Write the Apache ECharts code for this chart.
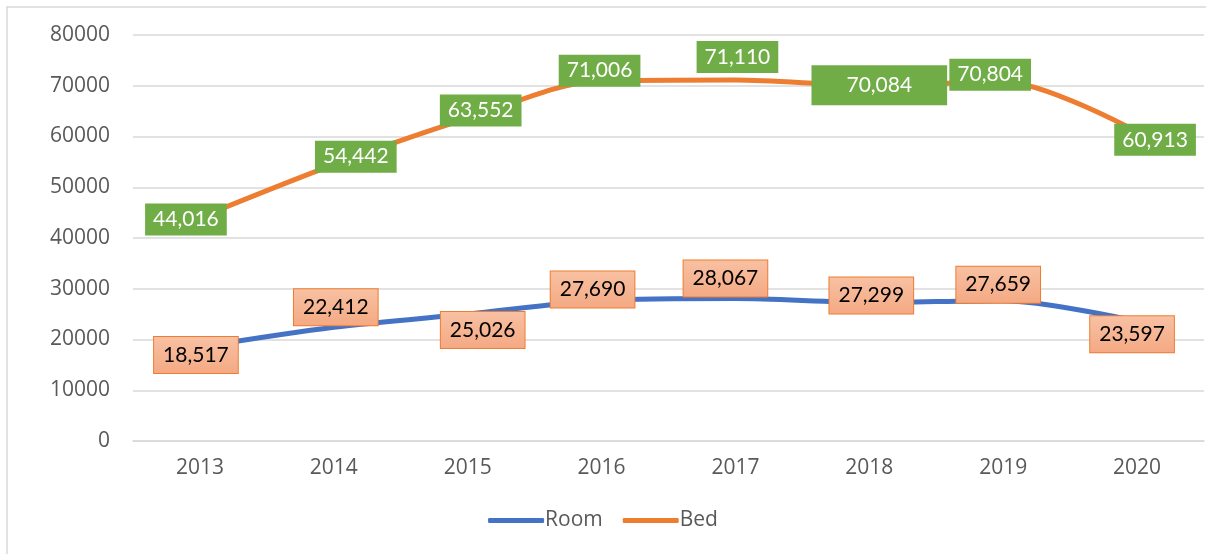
<!DOCTYPE html>
<html lang="en" style="height: 100%">
<head>
  <meta charset="utf-8">
</head>
<body style="height: 100%; margin: 0; background: #fff">
  <div id="container" style="width: 1206px; height: 554px"></div>
  <script src="https://cdn.jsdelivr.net/npm/echarts@6/dist/echarts.min.js"></script>
  <script type="text/javascript">
    var years = ['2013', '2014', '2015', '2016', '2017', '2018', '2019', '2020'];
    var roomValues = [18517, 22412, 25026, 27690, 28067, 27299, 27659, 23597];
    var bedValues = [44016, 54442, 63552, 71006, 71110, 70084, 70804, 60913];
    // label nudges (px) so the boxes sit like the original
    var roomLabelOffsets = [[-4, 8], [2, -20], [15, 16], [-9, -11], [-10, -20], [2, -7], [-5, -16], [-5, 13]];
    var bedLabelOffsets = [[-14, 2], [22, -8], [13, -8], [-2, -10], [2, -23], [10, 0], [-13, -7], [18, 8]];

    var dom = document.getElementById('container');
    var myChart = echarts.init(dom, null, { renderer: 'canvas' });

    function fmt(p) {
      return p.value.toLocaleString('en-US');
    }

    var roomLabel = {
      show: true,
      position: 'inside',
      formatter: fmt,
      fontFamily: 'Lato',
      fontSize: 21,
      color: '#000',
      padding: [8, 9, 7, 9],
      borderColor: '#ed7d31',
      borderWidth: 1,
      backgroundColor: new echarts.graphic.LinearGradient(0, 0, 0, 1, [
        { offset: 0, color: '#f8c1a3' },
        { offset: 1, color: '#f4a983' }
      ])
    };
    var bedLabel = {
      show: true,
      position: 'inside',
      formatter: fmt,
      fontFamily: 'Lato',
      fontSize: 21,
      color: '#fff',
      padding: [6, 8, 5, 8],
      backgroundColor: '#70ad47'
    };

    var roomData = roomValues.map(function (v, i) {
      return { value: v, label: { offset: roomLabelOffsets[i] } };
    });
    var bedData = bedValues.map(function (v, i) {
      var lbl = { offset: bedLabelOffsets[i] };
      if (i === 5) lbl.padding = [10, 35, 9, 35];
      return { value: v, label: lbl };
    });

    var option = {
      animation: false,
      graphic: [{
        type: 'rect',
        shape: { x: 7, y: 7, width: 1230, height: 560 },
        style: { fill: 'none', stroke: '#d9d9d9', lineWidth: 1.5 },
        z: -1
      }],
      grid: { left: 133, right: 2, top: 35, bottom: 113 },
      legend: {
        bottom: 18,
        left: 'center',
        itemWidth: 56,
        itemHeight: 5,
        itemGap: 20,
        icon: 'roundRect',
        textStyle: { fontFamily: 'Open Sans', fontSize: 21, color: '#595959', padding: [0, 0, 0, -4] },
        data: ['Room', 'Bed']
      },
      xAxis: {
        type: 'category',
        data: years,
        boundaryGap: true,
        axisLine: { lineStyle: { color: '#d9d9d9', width: 1.5 } },
        axisTick: { show: false },
        axisLabel: { fontFamily: 'Open Sans', fontSize: 21, color: '#595959', margin: 17 }
      },
      yAxis: {
        type: 'value',
        min: 0,
        max: 80000,
        interval: 10000,
        axisLine: { show: false },
        axisTick: { show: false },
        splitLine: { lineStyle: { color: '#d9d9d9', width: 1.5 } },
        axisLabel: {
          fontFamily: 'Open Sans', fontSize: 21, color: '#595959', margin: 23,
          formatter: function (v) { return String(v); }
        }
      },
      series: [
        {
          name: 'Room',
          type: 'line',
          smooth: 0.3,
          symbol: 'circle',
          symbolSize: 1,
          data: roomData,
          lineStyle: { color: '#4472c4', width: 5 },
          itemStyle: { color: '#4472c4' },
          label: roomLabel
        },
        {
          name: 'Bed',
          type: 'line',
          smooth: 0.3,
          symbol: 'circle',
          symbolSize: 1,
          data: bedData,
          lineStyle: { color: '#ed7d31', width: 5 },
          itemStyle: { color: '#ed7d31' },
          label: bedLabel
        }
      ]
    };

    myChart.setOption(option);
    window.addEventListener('resize', myChart.resize);
  </script>
</body>
</html>
